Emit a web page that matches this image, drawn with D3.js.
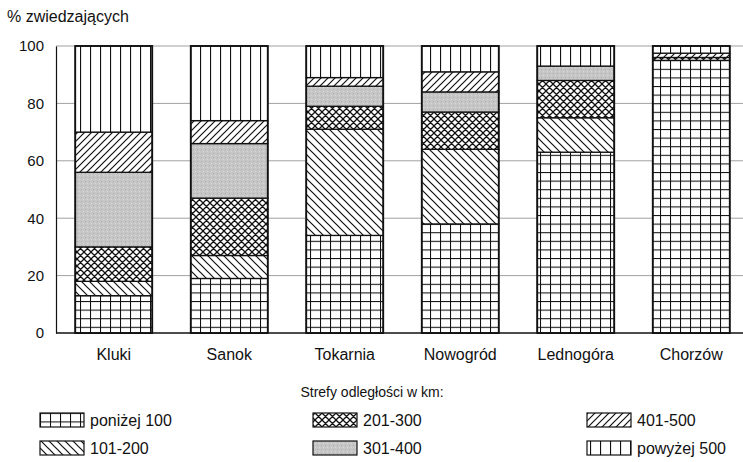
<!DOCTYPE html>
<html>
<head>
<meta charset="utf-8">
<script src="https://cdn.jsdelivr.net/npm/d3@7"></script>
<style>
  html, body { margin: 0; padding: 0; background: #fff; }
  text { font-family: "Liberation Sans", Arial, sans-serif; fill: #111; }
</style>
</head>
<body>
<svg id="chart" width="743" height="462"></svg>
<script>
const categories = ["Kluki", "Sanok", "Tokarnia", "Nowogród", "Lednogóra", "Chorzów"];
const zones = ["poniżej 100", "101-200", "201-300", "301-400", "401-500", "powyżej 500"];
const below100 = [13, 19, 34, 38, 63, 95];
const z101_200 = [5, 8, 37, 26, 12, 0];
const z201_300 = [12, 20, 8, 13, 13, 1];
const z301_400 = [26, 19, 7, 7, 5, 0];
const z401_500 = [14, 8, 3, 7, 0, 1.5];
const above500 = [30, 26, 11, 9, 7, 2.5];
const yTicks = [0, 20, 40, 60, 80, 100];
const yTitle = "% zwiedzających";
const legendTitle = "Strefy odległości w km:";

const seriesValues = [below100, z101_200, z201_300, z301_400, z401_500, above500];
const rows = categories.map((c, i) => {
  const r = { cat: c };
  zones.forEach((z, k) => r[z] = seriesValues[k][i]);
  return r;
});

const svg = d3.select("#chart");
const W = 743, H = 462;
svg.append("rect").attr("width", W).attr("height", H).attr("fill", "#fff");

// patterns
const defs = svg.append("defs");
function pat(id, w, h, draw) {
  const p = defs.append("pattern").attr("id", id).attr("patternUnits", "userSpaceOnUse")
    .attr("width", w).attr("height", h);
  p.append("rect").attr("width", w).attr("height", h).attr("fill", "#fff");
  draw(p);
}
pat("p0", 10, 8.6, p => {
  p.append("line").attr("x1", 0.5).attr("y1", 0).attr("x2", 0.5).attr("y2", 8.6).attr("stroke", "#111").attr("stroke-width", 1.1);
  p.append("line").attr("x1", 0).attr("y1", 0.5).attr("x2", 10).attr("y2", 0.5).attr("stroke", "#111").attr("stroke-width", 1.1);
});
pat("p1", 8, 8, p => {
  p.append("path").attr("d", "M-2,-2 L10,10 M-2,6 L2,10 M6,-2 L10,2").attr("stroke", "#111").attr("stroke-width", 1.2);
});
pat("p2", 7, 7, p => {
  p.append("path").attr("d", "M-1,-1 L8,8 M-1,6 L1,8 M6,-1 L8,1 M-1,8 L8,-1 M-1,1 L1,-1 M6,8 L8,6").attr("stroke", "#111").attr("stroke-width", 1.3);
});
pat("p3", 4, 4, p => {
  p.select("rect").attr("fill", "#c6c6c6");
  p.append("rect").attr("x", 1).attr("y", 1).attr("width", 1).attr("height", 1).attr("fill", "#acacac");
  p.append("rect").attr("x", 3).attr("y", 3).attr("width", 1).attr("height", 1).attr("fill", "#d8d8d8");
});
pat("p4", 7, 7, p => {
  p.append("path").attr("d", "M-2,9 L9,-2 M-2,2 L2,-2 M5,9 L9,5").attr("stroke", "#111").attr("stroke-width", 1.2);
});
pat("p5", 10, 10, p => {
  p.append("line").attr("x1", 0.5).attr("y1", 0).attr("x2", 0.5).attr("y2", 10).attr("stroke", "#111").attr("stroke-width", 1.2);
});
const fills = zones.map((z, i) => `url(#p${i})`);

const x = d3.scaleBand().domain(categories).range([56, 749]).paddingInner(1 / 3).paddingOuter(1 / 6);
const y = d3.scaleLinear().domain([0, 100]).range([333, 46]);

// gridlines
svg.append("g").selectAll("line").data(yTicks.filter(t => t > 0)).join("line")
  .attr("x1", 56).attr("x2", W).attr("y1", d => y(d)).attr("y2", d => y(d))
  .attr("stroke", "#a0a0a0").attr("stroke-width", 1);

// y axis
const yAxis = d3.axisLeft(y).tickValues(yTicks).tickSize(0).tickPadding(12);
const ya = svg.append("g").attr("transform", "translate(56,0)").call(yAxis);
ya.select(".domain").attr("stroke", "#111").attr("stroke-width", 1.2);
ya.selectAll("text").style("font-size", "15px").style("font-family", "Liberation Sans, Arial, sans-serif").attr("fill", "#111");

// x axis
const xa = svg.append("g").attr("transform", "translate(0,333)")
  .call(d3.axisBottom(x).tickSize(0).tickPadding(16));
xa.select(".domain").attr("d", `M56,0H${W}`).attr("stroke", "#111").attr("stroke-width", 1.4);
xa.selectAll("text").style("font-size", "16px").style("font-family", "Liberation Sans, Arial, sans-serif").attr("fill", "#111");

// stacked bars
const stack = d3.stack().keys(zones)(rows);
const g = svg.append("g");
stack.forEach((layer, k) => {
  g.append("g").selectAll("rect").data(layer.filter(d => d[1] - d[0] > 0)).join("rect")
    .attr("x", d => x(d.data.cat))
    .attr("width", x.bandwidth())
    .attr("y", d => y(d[1]))
    .attr("height", d => y(d[0]) - y(d[1]))
    .attr("fill", fills[k])
    .attr("stroke", "#111").attr("stroke-width", 1.3);
});
// bar outlines
g.append("g").selectAll("rect").data(categories).join("rect")
  .attr("x", d => x(d)).attr("width", x.bandwidth())
  .attr("y", y(100)).attr("height", y(0) - y(100))
  .attr("fill", "none").attr("stroke", "#111").attr("stroke-width", 1.8);

// y title
svg.append("text").attr("x", 7).attr("y", 22).text(yTitle).style("font-size", "16px");

// legend
svg.append("text").attr("x", 372).attr("y", 397).attr("text-anchor", "middle").text(legendTitle).style("font-size", "14px");
const legCols = [40, 313, 587];
const legRows = [413, 441];
zones.forEach((z, i) => {
  const cx = legCols[Math.floor(i / 2)], cy = legRows[i % 2];
  svg.append("rect").attr("x", cx).attr("y", cy).attr("width", 44).attr("height", 14)
    .attr("fill", fills[i]).attr("stroke", "#111").attr("stroke-width", 1.2);
  svg.append("text").attr("x", cx + 50).attr("y", cy + 12.5).text(z).style("font-size", "16px");
});
</script>
</body>
</html>
